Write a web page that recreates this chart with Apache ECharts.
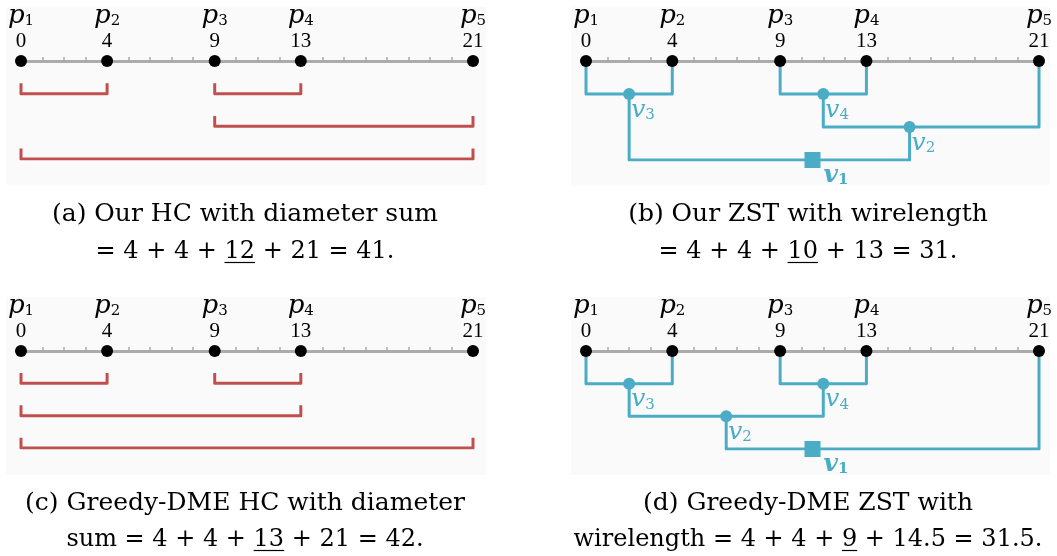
<!DOCTYPE html>
<html>
<head>
<meta charset="utf-8">
<script src="https://cdn.jsdelivr.net/npm/echarts@6/dist/echarts.min.js"></script>
<style>
  html, body { margin: 0; padding: 0; background: #fff; }
  #chart { width: 1057px; height: 556px; }
</style>
</head>
<body>
<div id="chart"></div>
<script>
// sink positions on the line
var pinX = [0, 4, 9, 13, 21];
var pinIdx = ['1', '2', '3', '4', '5'];

// HC brackets: [from, to, depth]
var hcOurs = [[0, 4, 1], [9, 13, 1], [9, 21, 2], [0, 21, 3]];
var hcGreedy = [[0, 4, 1], [9, 13, 1], [0, 13, 2], [0, 21, 3]];

// ZST internal nodes
var zstNames = ['3', '4', '2', '1'];
var zstOursX = [2, 11, 15, 10.5];
var zstOursDepth = [1, 1, 2, 3];
var zstOursKids = [['p1', 'p2'], ['p3', 'p4'], ['v4', 'p5'], ['v3', 'v2']];
var zstGreedyX = [2, 11, 6.5, 10.5];
var zstGreedyDepth = [1, 1, 2, 3];
var zstGreedyKids = [['p1', 'p2'], ['p3', 'p4'], ['v3', 'v4'], ['v2', 'p5']];

// captions: first line, [before, underlined, after]
var capA = ['(a) Our HC with diameter sum', ['= 4 + 4 + ', '12', ' + 21 = 41.']];
var capB = ['(b) Our ZST with wirelength', ['= 4 + 4 + ', '10', ' + 13 = 31.']];
var capC = ['(c) Greedy-DME HC with diameter', ['sum = 4 + 4 + ', '13', ' + 21 = 42.']];
var capD = ['(d) Greedy-DME ZST with', ['wirelength = 4 + 4 + ', '9', ' + 14.5 = 31.5.']];

var RED = '#c0504d';
var BLUE = '#4bacc6';
var AXIS = '#ababab';
var SERIF = '"DejaVu Serif"';
var CAP_FONT1 = '25px "DejaVu Serif"';
var CAP_FONT2 = '24px "DejaVu Serif"';

var myChart = echarts.init(document.getElementById('chart'));

var grids = [
    { left: 21, top: 61, width: 452, height: 98 },
    { left: 586, top: 61, width: 453, height: 99 },
    { left: 21, top: 351, width: 452, height: 97 },
    { left: 586, top: 351, width: 453, height: 98 }
];

var xAxes = grids.map(function (g, i) {
    return {
        gridIndex: i, type: 'value', position: 'top', min: 0, max: 21, interval: 1,
        axisLine: { onZero: false, lineStyle: { color: AXIS, width: 3 } },
        axisTick: { show: true, length: 4, lineStyle: { color: AXIS, width: 1.5 } },
        axisLabel: { show: false },
        splitLine: { show: false }
    };
});
var yAxes = grids.map(function (g, i) {
    return { gridIndex: i, type: 'value', min: 0, max: 3, inverse: true, show: false };
});

function pinSeries(i) {
    return {
        type: 'scatter', xAxisIndex: i, yAxisIndex: i, z: 10, clip: false,
        symbolSize: 12, itemStyle: { color: '#000', opacity: 1 },
        data: pinX.map(function (x) { return [x, 0]; }),
        label: {
            show: true, position: 'top', distance: 2, opacity: 1,
            formatter: function (p) {
                return '{p|p}{s|' + pinIdx[p.dataIndex] + '}\n{n|' + pinX[p.dataIndex] + '}';
            },
            rich: {
                p: { fontFamily: SERIF, fontStyle: 'italic', fontSize: 26, lineHeight: 26, color: '#000' },
                s: { fontFamily: SERIF, fontSize: 15, padding: [10, 0, 0, 0], color: '#000' },
                n: { fontFamily: '"Liberation Serif"', fontSize: 21, lineHeight: 24, color: '#000', align: 'center' }
            }
        }
    };
}

function bracketSeries(i, list) {
    return {
        type: 'lines', coordinateSystem: 'cartesian2d', xAxisIndex: i, yAxisIndex: i,
        polyline: true, silent: true,
        lineStyle: { color: RED, width: 3, opacity: 1, join: 'round' },
        data: list.map(function (b) {
            var top = b[2] - 0.32;
            return { coords: [[b[0], top], [b[0], b[2]], [b[1], b[2]], [b[1], top]] };
        })
    };
}

function zstSeries(i, xs, depths, kids) {
    var pos = {};
    pinX.forEach(function (x, k) { pos['p' + pinIdx[k]] = [x, 0]; });
    zstNames.forEach(function (n, k) { pos['v' + n] = [xs[k], depths[k]]; });
    var paths = zstNames.map(function (n, k) {
        var a = pos[kids[k][0]], b = pos[kids[k][1]], d = depths[k];
        return { coords: [a, [a[0], d], [b[0], d], b] };
    });
    var nodes = zstNames.map(function (n, k) {
        var root = n === '1';
        return {
            value: [xs[k], depths[k]],
            symbol: root ? 'rect' : 'circle',
            symbolSize: root ? 16 : 12,
            label: {
                position: root ? [19, 10] : [8, 9],
                formatter: root ? '{vb|v}{sb|' + n + '}' : '{v|v}{s|' + n + '}'
            }
        };
    });
    return [{
        type: 'lines', coordinateSystem: 'cartesian2d', xAxisIndex: i, yAxisIndex: i,
        polyline: true, silent: true,
        lineStyle: { color: BLUE, width: 3, opacity: 1, join: 'round' },
        data: paths
    }, {
        type: 'scatter', xAxisIndex: i, yAxisIndex: i, z: 9, clip: false,
        itemStyle: { color: BLUE, opacity: 1 },
        data: nodes,
        label: {
            show: true, opacity: 1,
            rich: {
                v: { fontFamily: SERIF, fontStyle: 'italic', fontSize: 25, lineHeight: 26, color: BLUE },
                s: { fontFamily: SERIF, fontSize: 15, padding: [10, 0, 0, 0], color: BLUE },
                vb: { fontFamily: SERIF, fontStyle: 'italic', fontWeight: 'bold', fontSize: 25, lineHeight: 26, color: BLUE },
                sb: { fontFamily: SERIF, fontWeight: 'bold', fontSize: 15, padding: [10, 0, 0, 0], color: BLUE }
            }
        }
    }];
}

// caption text with an underlined term
var ctx = document.createElement('canvas').getContext('2d');
function captionEls(cap, cx, y1, y2) {
    var parts = cap[1];
    var full = parts.join('');
    ctx.font = CAP_FONT2;
    var w0 = ctx.measureText(parts[0]).width;
    var w1 = ctx.measureText(parts[1]).width;
    var wAll = ctx.measureText(full).width;
    var sx = cx - wAll / 2 + w0;
    var txt = function (s, y, font) {
        return {
            type: 'text', x: cx, y: y,
            style: { text: s, font: font, fill: '#000', align: 'center', verticalAlign: 'middle', textAlign: 'center', textVerticalAlign: 'middle' }
        };
    };
    return [
        txt(cap[0], y1, CAP_FONT1),
        txt(full, y2, CAP_FONT2),
        { type: 'line', shape: { x1: sx, y1: y2 + 10.5, x2: sx + w1, y2: y2 + 10.5 }, style: { stroke: '#000', lineWidth: 1.2 } }
    ];
}

function panelBg(x, y, w, h) {
    return { type: 'rect', z: -10, shape: { x: x, y: y, width: w, height: h }, style: { fill: '#fafafa' } };
}

var option = {
    backgroundColor: '#fff',
    animation: false,
    grid: grids,
    xAxis: xAxes,
    yAxis: yAxes,
    graphic: [
        panelBg(6, 7, 480, 178), panelBg(571, 7, 479, 178),
        panelBg(6, 297, 480, 178), panelBg(571, 297, 479, 178)
    ].concat(captionEls(capA, 245, 214, 252))
     .concat(captionEls(capB, 808, 214, 252))
     .concat(captionEls(capC, 245, 503, 540))
     .concat(captionEls(capD, 808, 503, 540)),
    series: [
        bracketSeries(0, hcOurs), pinSeries(0),
        pinSeries(1),
        bracketSeries(2, hcGreedy), pinSeries(2),
        pinSeries(3)
    ].concat(zstSeries(1, zstOursX, zstOursDepth, zstOursKids))
     .concat(zstSeries(3, zstGreedyX, zstGreedyDepth, zstGreedyKids))
};

myChart.setOption(option);
</script>
</body>
</html>
